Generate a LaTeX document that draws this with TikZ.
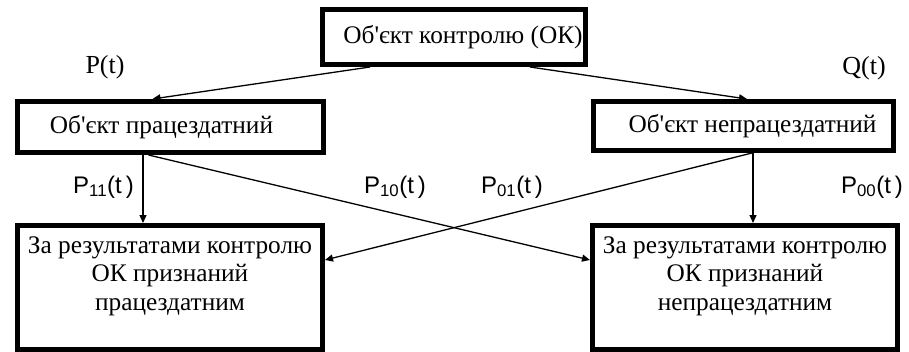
\documentclass[tikz,border=0pt]{standalone}
\usepackage{fontspec}
\setmainfont{Liberation Serif}
\newfontfamily\lblsans{Liberation Sans}
\usetikzlibrary{arrows.meta}
\newcommand{\apo}{\textquotesingle}
\begin{document}
\begin{tikzpicture}[x=1pt,y=-1pt,
  box/.style={draw, line width=5pt, inner sep=0pt, align=center,
    font={\fontsize{25.3}{28.5}\selectfont}},
  lbl/.style={inner sep=0pt, font={\fontsize{26}{28}\selectfont}},
  slbl/.style={inner sep=0pt, font={\lblsans\fontsize{24}{28}\selectfont}},
  arr/.style={line width=1.3pt, -{Triangle[length=8pt,width=7pt]}}]
\useasboundingbox (0,0) rectangle (909,351);
\node[box, minimum width=263pt, minimum height=55pt] (top) at (454,37) {\hspace*{18pt}Об\apo єкт контролю (ОК)};
\node[box, minimum width=306pt, minimum height=51pt] (ml) at (170.5,127) {Об\apo єкт працездатний\hspace*{18pt}};
\node[box, minimum width=300pt, minimum height=49pt] (mr) at (743.5,126) {\hspace*{18pt}Об\apo єкт непрацездатний};
\node[box, minimum width=305pt, minimum height=124pt] (bl) at (170,287.5) {За результатами контролю\\ОК признаний\\працездатним\\\mbox{}};
\node[box, minimum width=305pt, minimum height=124pt] (br) at (745,287.5) {За результатами контролю\\ОК признаний\\непрацездатним\\\mbox{}};
\node[lbl] (pt) at (105,67) {P(t)};
\node[lbl] (qt) at (864,68) {Q(t)};
\node[slbl] (p11) at (103.5,187) {P\textsubscript{11}(t\,)};
\node[slbl] (p10) at (395,187) {P\textsubscript{10}(t\,)};
\node[slbl] (p01) at (512,187) {P\textsubscript{01}(t\,)};
\node[slbl] (p00) at (872,187) {P\textsubscript{00}(t\,)};
\draw[arr] ([xshift=-84pt]top.south) -- ([xshift=-18pt]ml.north);
\draw[arr] ([xshift=76pt]top.south) -- ([xshift=3.5pt]mr.north);
\draw[arr] ([xshift=-27.5pt]ml.south) -- ([xshift=-27pt]bl.north);
\draw[arr] ([xshift=9.5pt]mr.south) -- ([xshift=8pt]br.north);
\draw[arr] ([xshift=-22pt]ml.south) -- ([yshift=27.5pt]br.west);
\draw[arr] ([xshift=8.5pt]mr.south) -- ([yshift=27.5pt]bl.east);
\end{tikzpicture}
\end{document}
